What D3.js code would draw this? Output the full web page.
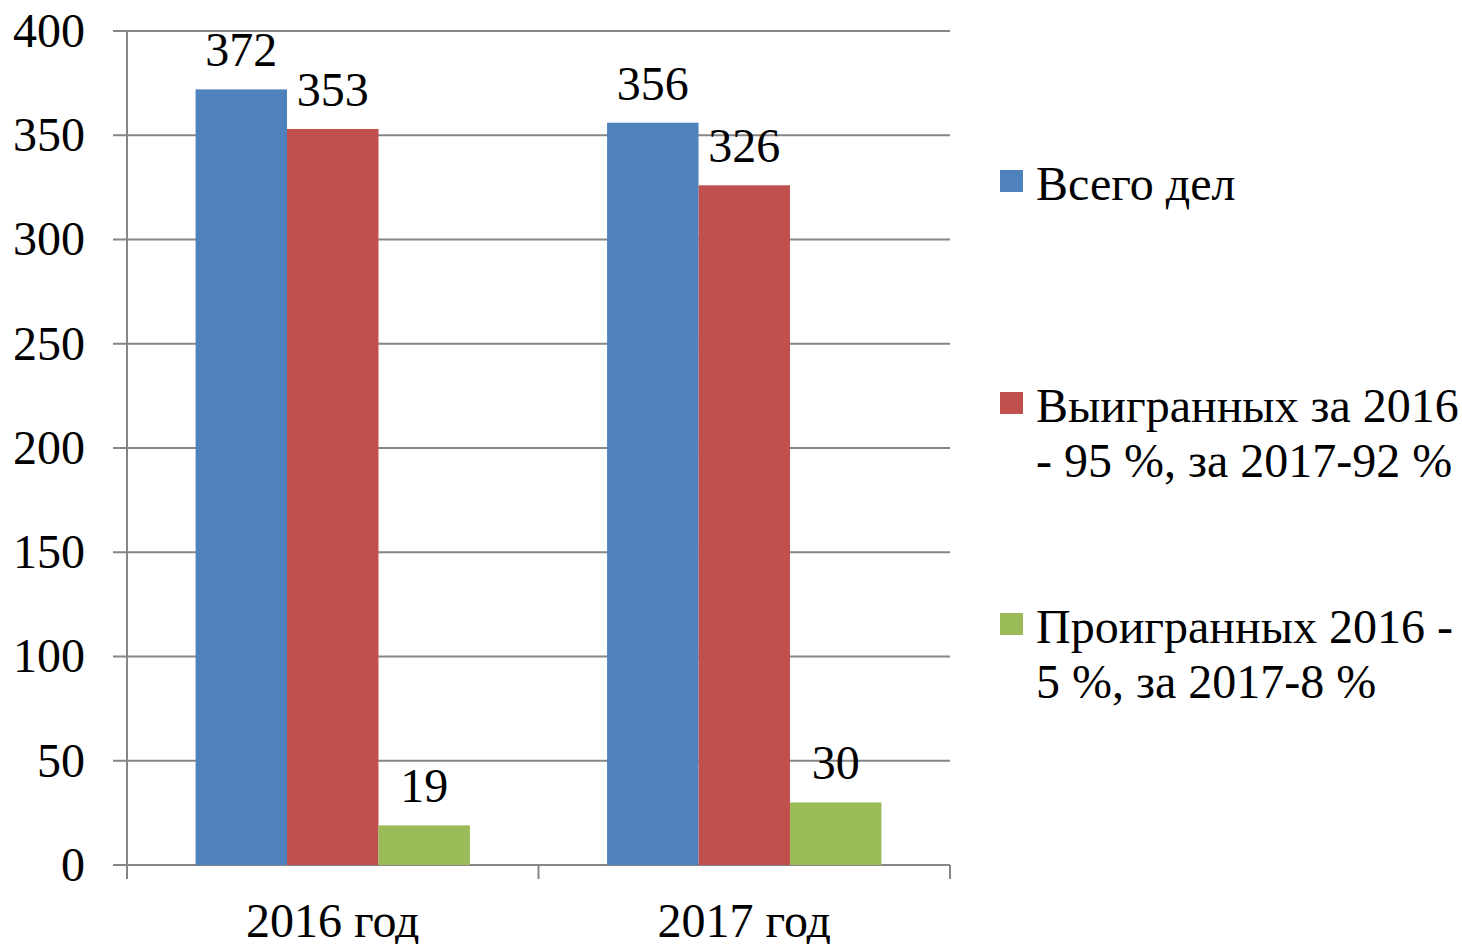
<!DOCTYPE html>
<html>
<head>
<meta charset="utf-8">
<script src="https://cdn.jsdelivr.net/npm/d3@7"></script>
<style>
body { margin: 0; background: #fff; }
text { font-family: "Liberation Serif", "Times New Roman", serif; fill: #000; }
</style>
</head>
<body>
<svg width="1462" height="944"></svg>
<script>
var categories = ["2016 год", "2017 год"];
var seriesNames = [
  ["Всего дел"],
  ["Выигранных за 2016", "- 95 %, за 2017-92 %"],
  ["Проигранных 2016 -", "5 %, за 2017-8 %"]
];
var totalCases = [372, 356];
var wonCases = [353, 326];
var lostCases = [19, 30];
var yTicks = [0, 50, 100, 150, 200, 250, 300, 350, 400];
var colors = ["#4F81BD", "#C0504D", "#9BBB59"];

var series = [totalCases, wonCases, lostCases];

var svg = d3.select("svg"),
margin = {top: 31, right: 512, bottom: 79, left: 127},
width = +svg.attr("width") - margin.left - margin.right,
height = +svg.attr("height") - margin.top - margin.bottom;

var g = svg.append("g").attr("transform", "translate(" + margin.left + "," + margin.top + ")");

var x0 = d3.scaleBand().domain(categories).range([0, width]);
var bw = x0.bandwidth() / 4.5; // gap width 150%
var x1 = d3.scaleBand().domain([0, 1, 2]).range([bw * 0.75, x0.bandwidth() - bw * 0.75]);
var y = d3.scaleLinear().domain([0, 400]).range([height, 0]);

// gridlines
g.append("g")
    .selectAll("line")
    .data(yTicks)
    .enter().append("line")
    .attr("x1", -14)
    .attr("x2", width)
    .attr("y1", function(d) { return y(d); })
    .attr("y2", function(d) { return y(d); })
    .attr("stroke", "#868686")
    .attr("stroke-width", 2);

// y axis line
g.append("line")
    .attr("x1", 0).attr("x2", 0)
    .attr("y1", 0).attr("y2", height + 14)
    .attr("stroke", "#868686")
    .attr("stroke-width", 2);

// x axis ticks
g.append("g")
    .selectAll("line")
    .data([1, 2])
    .enter().append("line")
    .attr("x1", function(d) { return d * x0.step(); })
    .attr("x2", function(d) { return d * x0.step(); })
    .attr("y1", height)
    .attr("y2", height + 14)
    .attr("stroke", "#868686")
    .attr("stroke-width", 2);

// y labels
g.append("g")
    .selectAll("text")
    .data(yTicks)
    .enter().append("text")
    .attr("x", -42)
    .attr("y", function(d) { return y(d); })
    .attr("dy", "0.33em")
    .attr("text-anchor", "end")
    .style("font-size", "48px")
    .text(function(d) { return d; });

// x labels
g.append("g")
    .selectAll("text")
    .data(categories)
    .enter().append("text")
    .attr("x", function(d) { return x0(d) + x0.bandwidth() / 2; })
    .attr("y", height + 72)
    .attr("text-anchor", "middle")
    .style("font-size", "48px")
    .text(function(d) { return d; });

// bars
var groups = g.selectAll(".grp")
    .data(categories)
    .enter().append("g")
    .attr("class", "grp")
    .attr("transform", function(d) { return "translate(" + x0(d) + ",0)"; });

groups.selectAll("rect")
    .data(function(d, i) { return series.map(function(s, j) { return {s: j, v: s[i]}; }); })
    .enter().append("rect")
    .attr("x", function(d) { return x1(d.s); })
    .attr("y", function(d) { return y(d.v); })
    .attr("width", x1.bandwidth())
    .attr("height", function(d) { return height - y(d.v); })
    .attr("fill", function(d) { return colors[d.s]; });

groups.selectAll(".lbl")
    .data(function(d, i) { return series.map(function(s, j) { return {s: j, v: s[i]}; }); })
    .enter().append("text")
    .attr("class", "lbl")
    .attr("x", function(d) { return x1(d.s) + x1.bandwidth() / 2; })
    .attr("y", function(d) { return y(d.v) - 23; })
    .attr("text-anchor", "middle")
    .style("font-size", "48px")
    .text(function(d) { return d.v; });

// legend
var legendY = [200, 422, 643];
var legend = svg.append("g");
seriesNames.forEach(function(lines, i) {
    legend.append("rect")
        .attr("x", 1000)
        .attr("y", legendY[i] - 30)
        .attr("width", 23)
        .attr("height", 22)
        .attr("fill", colors[i]);
    lines.forEach(function(t, k) {
        legend.append("text")
            .attr("x", 1036)
            .attr("y", legendY[i] + k * 55)
            .style("font-size", "48px")
            .text(t);
    });
});
</script>
</body>
</html>
